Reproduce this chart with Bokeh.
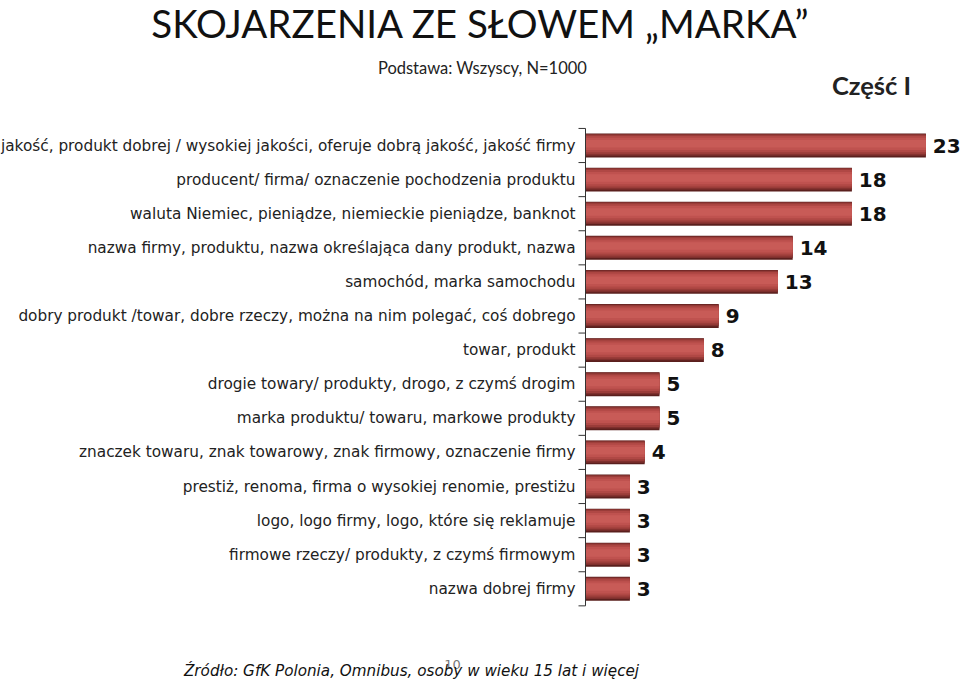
from bokeh.plotting import figure
from bokeh.models import Range1d, ColumnDataSource
from bokeh.core.properties import value
from bokeh.embed import file_html
from bokeh.resources import INLINE

categories = [
    "jakość, produkt dobrej / wysokiej jakości, oferuje dobrą jakość, jakość firmy",
    "producent/ firma/ oznaczenie pochodzenia produktu",
    "waluta Niemiec, pieniądze, niemieckie pieniądze, banknot",
    "nazwa firmy, produktu, nazwa określająca dany produkt, nazwa",
    "samochód, marka samochodu",
    "dobry produkt /towar, dobre rzeczy, można na nim polegać, coś dobrego",
    "towar, produkt",
    "drogie towary/ produkty, drogo, z czymś drogim",
    "marka produktu/ towaru, markowe produkty",
    "znaczek towaru, znak towarowy, znak firmowy, oznaczenie firmy",
    "prestiż, renoma, firma o wysokiej renomie, prestiżu",
    "logo, logo firmy, logo, które się reklamuje",
    "firmowe rzeczy/ produkty, z czymś firmowym",
    "nazwa dobrej firmy",
]
values = [23, 18, 18, 14, 13, 9, 8, 5, 5, 4, 3, 3, 3, 3]
value_labels = [str(v) for v in values]

title_text = "SKOJARZENIA ZE SŁOWEM „MARKA”"
subtitle_text = "Podstawa: Wszyscy, N=1000"
part_text = "Część I"
source_text = "Źródło: GfK Polonia, Omnibus, osoby w wieku 15 lat i więcej"
page_text = "10"

n = len(categories)
rows = list(range(n))

W, H = 960, 680
AXIS_X = 585          # pixel position of value 0
PXU = 14.8            # pixels per percentage point
ROW0 = 145            # pixel centre of first row
ROWH = 34.1           # pixels per row

p = figure(width=W, height=H, output_backend="svg", toolbar_location=None,
           x_range=Range1d(-AXIS_X / PXU, (W - AXIS_X) / PXU),
           y_range=Range1d((H - ROW0) / ROWH, -ROW0 / ROWH),
           min_border=0)
p.outline_line_color = None
p.grid.visible = False
p.axis.visible = False
p.background_fill_color = "white"
p.border_fill_color = "white"


def xd(px):
    return (px - AXIS_X) / PXU


def yd(py):
    return (py - ROW0) / ROWH


src = ColumnDataSource(dict(y=rows, v=values, lab=value_labels,
                            lx=[v + 0.47 for v in values],
                            cat=categories, cx=[xd(AXIS_X - 10)] * n))

# layered bars imitate the cylindrical gradient (dark bottom, lighter middle)
layers = [(0.70, 0.0, "#5a1f1d"), (0.64, -0.02, "#7e2f2d"), (0.57, -0.03, "#9a3c39"),
          (0.48, -0.04, "#b04845"), (0.36, -0.045, "#bf524f"), (0.22, -0.05, "#c85b57")]
for h, dy, c in layers:
    p.hbar(y=[r + dy for r in rows], right=values, left=0, height=h,
           fill_color=c, line_color=None)

p.text(x="lx", y="y", text="lab", source=src, text_font=value("DejaVu Sans"),
       text_font_style="bold", text_font_size="20px", text_align="left",
       text_baseline="middle", text_color="#111111")

p.text(x="cx", y="y", text="cat", source=src, text_font=value("DejaVu Sans"),
       text_font_size="15.3px", text_align="right", text_baseline="middle",
       text_color="#222222")

# axis line and boundary ticks
bounds = [i - 0.5 for i in range(n + 1)]
p.segment(x0=[0], y0=[bounds[0]], x1=[0], y1=[bounds[-1]],
          line_color="#333333", line_width=1)
p.segment(x0=[0] * len(bounds), y0=bounds, x1=[xd(AXIS_X - 7)] * len(bounds),
          y1=bounds, line_color="#333333", line_width=1)

p.text(x=[xd(480)], y=[yd(22)], text=[title_text], text_font=value("Lato"),
       text_font_size="38.5px", text_align="center", text_baseline="middle",
       text_color="#111111")
p.text(x=[xd(482)], y=[yd(67)], text=[subtitle_text], text_font=value("Lato"),
       text_font_size="16.5px", text_align="center", text_baseline="middle",
       text_color="#222222")
p.text(x=[xd(871)], y=[yd(84)], text=[part_text], text_font=value("Lato"),
       text_font_style="bold", text_font_size="25.5px", text_align="center",
       text_baseline="middle", text_color="#222222")
p.text(x=[xd(452)], y=[yd(664)], text=[page_text], text_font=value("DejaVu Sans"),
       text_font_size="13px", text_align="center", text_baseline="middle",
       text_color="#777777")
p.text(x=[xd(411)], y=[yd(670)], text=[source_text], text_font=value("DejaVu Sans"),
       text_font_style="italic", text_font_size="15.2px", text_align="center",
       text_baseline="middle", text_color="#111111")

open("out.html", "w").write(file_html(p, INLINE))
